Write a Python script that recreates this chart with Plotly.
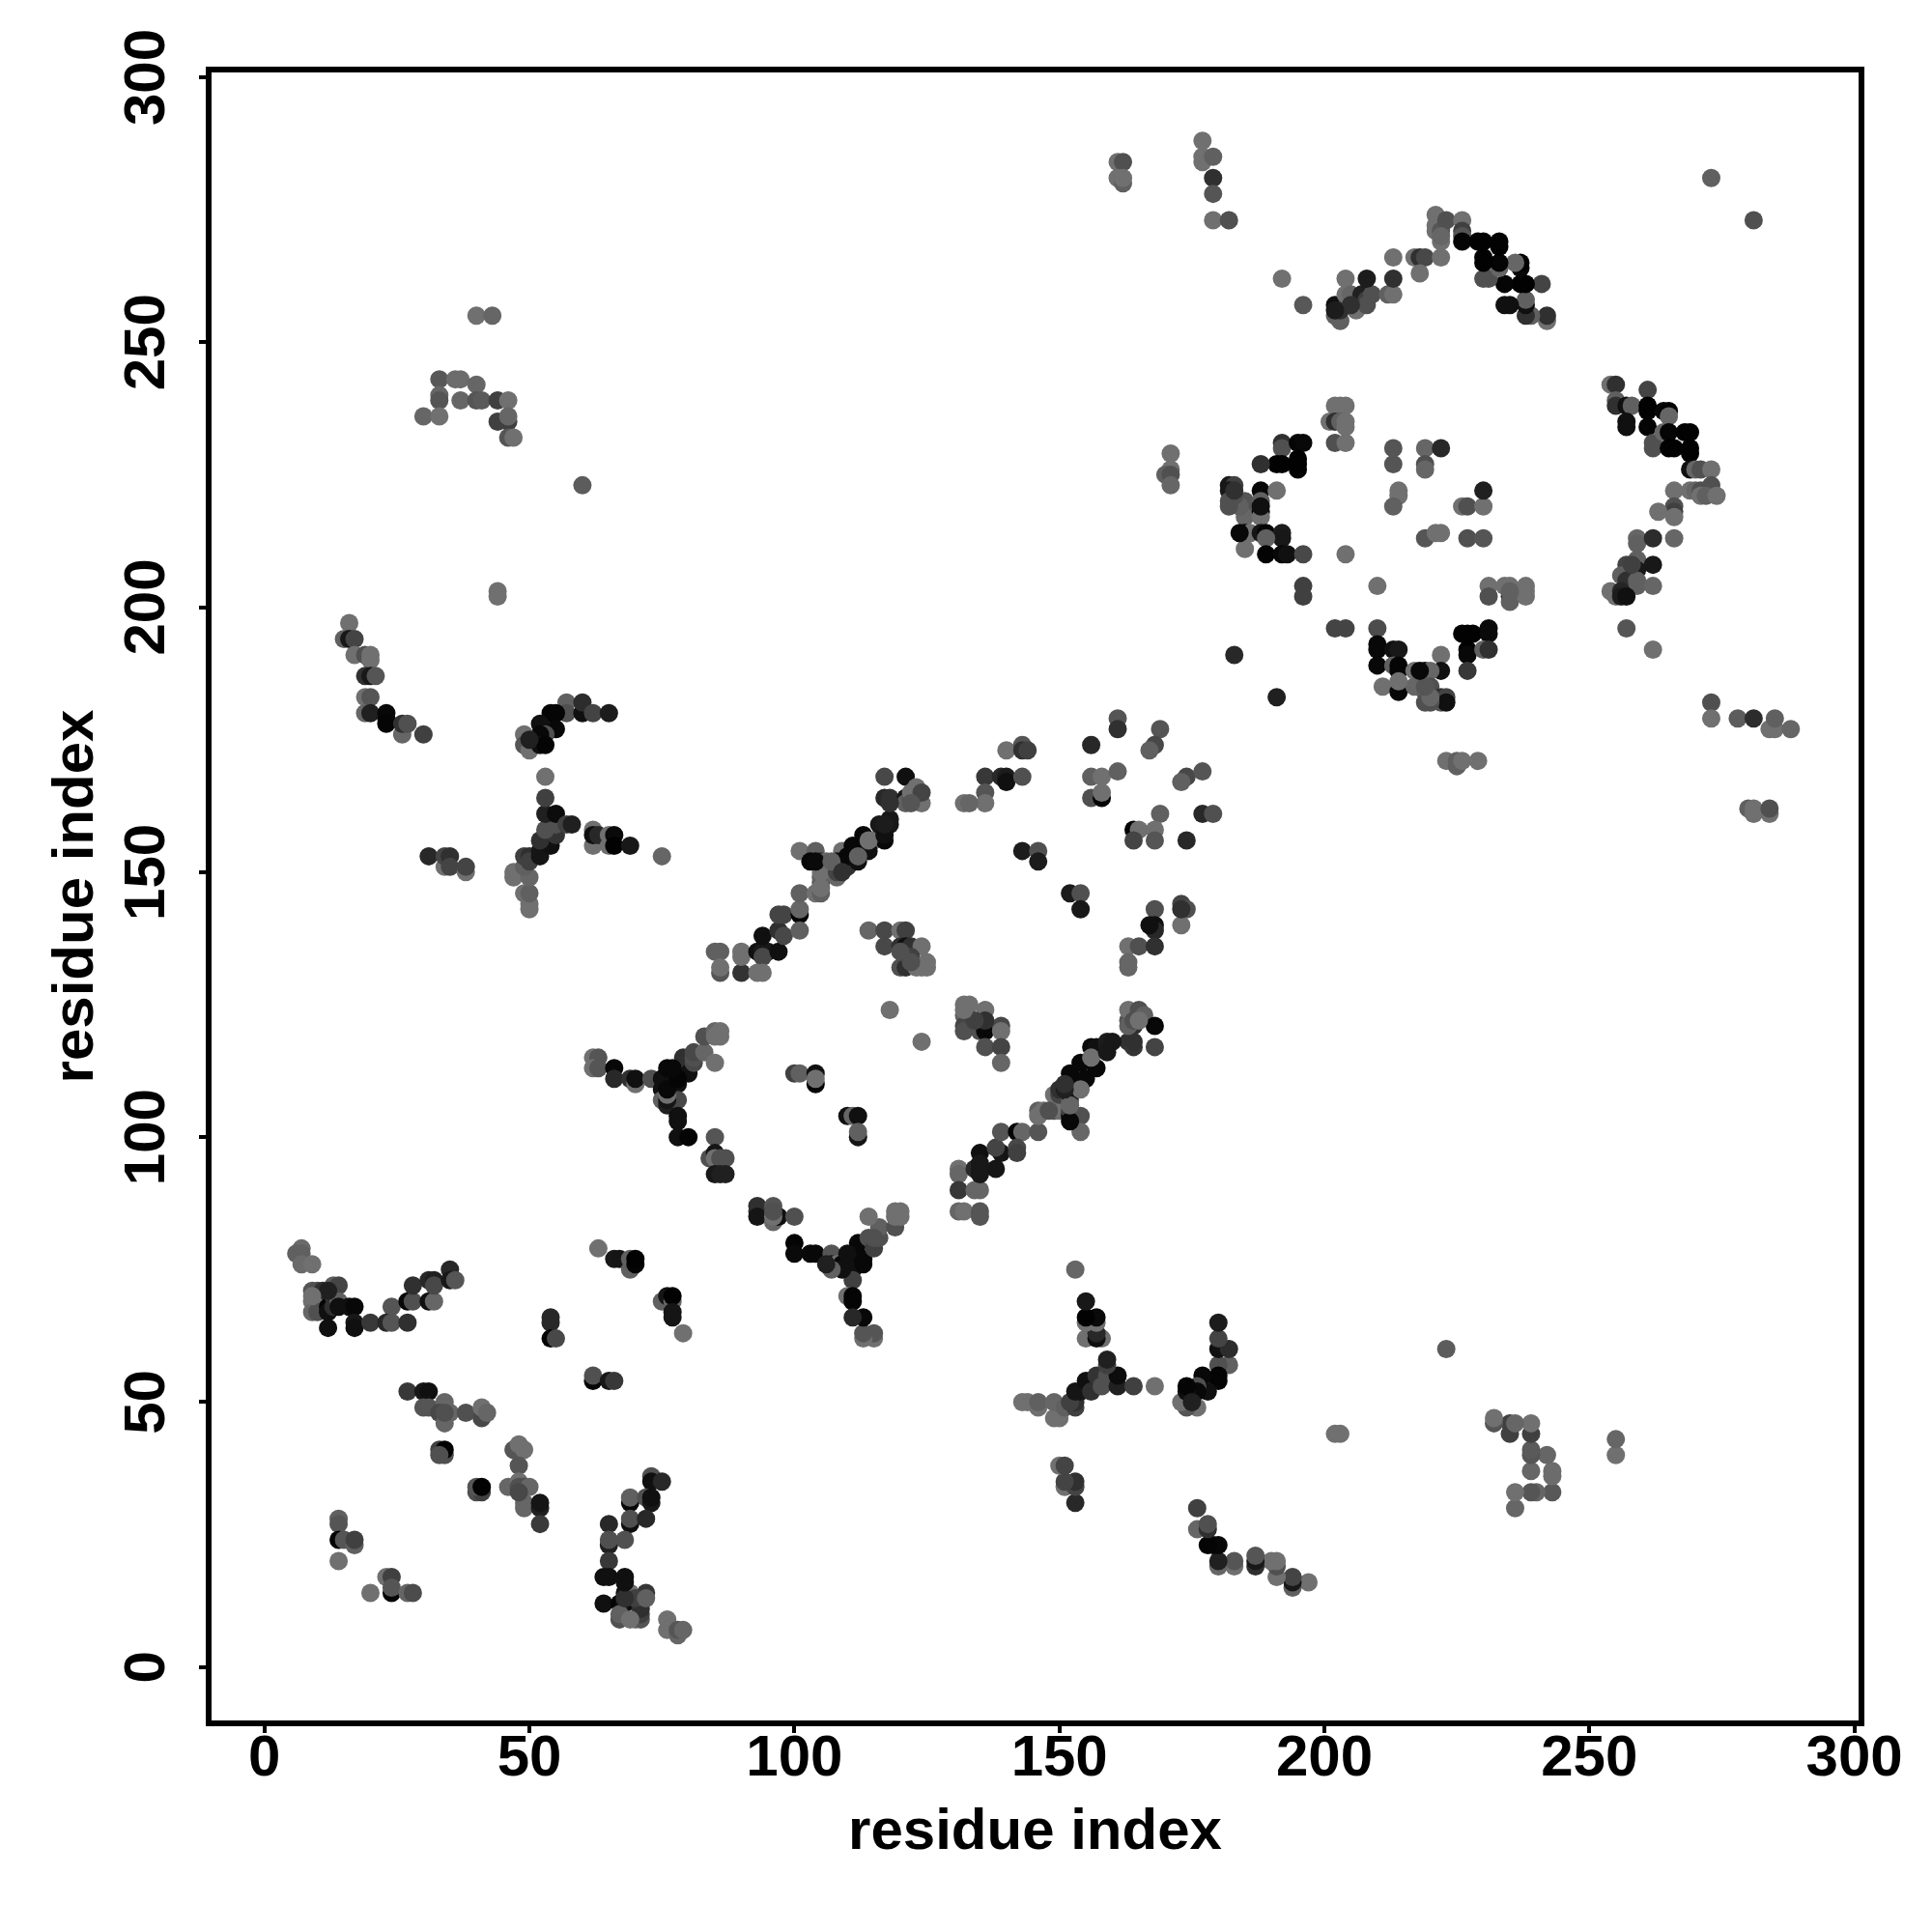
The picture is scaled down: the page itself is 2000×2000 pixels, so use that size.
import plotly.graph_objects as go

# contacts: (residue i, residue j, contact level as a grey value 0-255)
far_upper_left = [
(40,255,0x70),(43,255,0x66),(33,243,0x58),(36,243,0x6c),(37,243,0x6c),(40,242,0x66),(33,240,0x66),(33,239,0x55),
(37,239,0x66),(40,239,0x55),(41,239,0x5a),(44,239,0x40),(46,239,0x70),(30,236,0x66),(33,236,0x70),(44,235,0x40),
(46,235,0x40),(46,236,0x66),(46,232,0x55),(47,232,0x70),(60,223,0x5c),(44,203,0x70),(44,202,0x70),
]
arc_15_30 = [
(16,197,0x70),(15,194,0x60),(16,194,0x18),(17,194,0x44),(17,191,0x70),(19,191,0x50),(20,191,0x70),(20,190,0x70),
(19,187,0x30),(20,187,0x18),(21,187,0x55),(19,183,0x70),(20,183,0x55),(19,180,0x66),(20,180,0x20),(23,180,0x08),
(23,179,0x08),(23,178,0x05),(26,176,0x66),(26,178,0x30),(27,178,0x50),(30,176,0x40),
]
arc_50_65 = [
(57,182,0x60),(57,180,0x50),(60,180,0x10),(60,182,0x2c),(62,180,0x44),(65,180,0x1c),(54,178,0x40),(54,180,0x05),(55,180,0x05),
(55,177,0x08),(52,178,0x10),(53,176,0x50),(52,176,0x08),(49,176,0x70),(49,174,0x55),(50,173,0x70),
(52,174,0x10),(53,174,0x05),(50,175,0x20),
]
fork_50_60 = [
(50,143,0x70),(50,144,0x70),(49,146,0x70),(50,146,0x60),(47,149,0x70),(47,150,0x70),(50,149,0x66),(49,151,0x60),
(49,153,0x40),(50,153,0x30),(50,152,0x40),(52,154,0x18),(52,153,0x15),(54,155,0x10),(52,156,0x30),(55,157,0x33),
(53,158,0x50),(55,159,0x50),(53,161,0x20),(55,161,0x0c),(57,159,0x40),(58,159,0x20),(53,164,0x40),(53,168,0x70),
]
row_153 = [
(31,153,0x28),(34,151,0x70),(34,153,0x44),(35,153,0x30),(35,151,0x44),(38,150,0x70),(38,151,0x44),
(62,158,0x70),(62,155,0x70),(62,157,0x10),(63,157,0x28),(65,157,0x70),(65,155,0x70),(66,157,0x0a),(66,155,0x02),
(69,155,0x18),(75,153,0x66),
]
strand_85_125 = [
(85,135,0x60),(86,135,0x60),(86,131,0x55),(86,132,0x70),(90,131,0x33),(90,134,0x70),(90,135,0x70),(93,135,0x10),
(94,135,0x18),(95,135,0x18),(94,134,0x48),(93,131,0x70),(94,131,0x70),(97,135,0x10),(94,138,0x10),(97,139,0x30),
(98,138,0x48),(97,142,0x44),(98,142,0x44),(101,142,0x05),(101,143,0x66),(101,139,0x60),(101,146,0x60),(104,146,0x70),
(105,146,0x60),(105,148,0x50),(105,149,0x60),(108,149,0x66),(101,154,0x70),(104,154,0x60),(103,152,0x08),(105,152,0x30),
(106,152,0x66),(112,154,0x70),(115,156,0x70),(109,154,0x70),(108,152,0x10),(109,151,0x20),(110,151,0x30),(110,153,0x08),(112,152,0x10),(111,155,0x08),
(114,154,0x10),(113,157,0x08),(117,156,0x08),(116,159,0x18),(118,159,0x18),(118,160,0x18),
(117,164,0x28),(118,164,0x30),(117,168,0x48),(121,168,0x10),(121,164,0x18),(121,163,0x60),(122,164,0x50),(122,165,0x70),
(123,166,0x70),(124,163,0x70),(124,165,0x44),
]
patch_114_125 = [
(114,139,0x66),(117,139,0x48),(120,139,0x70),(121,139,0x40),(117,136,0x48),(120,136,0x30),(121,136,0x10),(122,136,0x30),
(124,136,0x70),(120,132,0x50),(121,132,0x30),(122,134,0x40),(123,132,0x70),(124,132,0x70),(125,133,0x70),(125,132,0x70),
(118,124,0x70),(124,118,0x70),
]
strand_62_86 = [
(62,115,0x70),(63,115,0x55),(62,113,0x70),(63,113,0x55),(66,113,0x08),(66,111,0x28),(69,111,0x30),(70,110,0x70),
(70,111,0x10),(73,111,0x50),(78,112,0x70),(75,111,0x10),(75,109,0x10),(75,107,0x60),(76,113,0x08),(76,106,0x20),
(78,110,0x10),(78,107,0x48),(78,104,0x10),(78,103,0x10),(78,100,0x10),(80,100,0x05),
(79,115,0x30),(80,112,0x10),(81,114,0x48),(81,115,0x50),(81,116,0x48),(83,116,0x66),(83,119,0x50),(85,114,0x70),
(85,120,0x66),(86,119,0x70),(86,120,0x70),(85,100,0x55),(84,96,0x50),(85,97,0x15),(85,96,0x70),(86,96,0x50),
(87,96,0x50),(85,93,0x18),(86,93,0x20),(87,93,0x20),
]
inner_100_112 = [
(100,112,0x40),(101,112,0x60),(104,112,0x10),(104,110,0x05),(104,111,0x70),(110,104,0x10),(111,104,0x66),(112,104,0x10),
(112,100,0x15),(112,101,0x60),
]
lower_arm_93_120 = [
(93,87,0x30),(93,86,0x30),(93,85,0x15),(96,87,0x55),(96,84,0x66),(97,85,0x10),(100,85,0x50),(100,80,0x05),
(100,78,0x0a),(103,78,0x0a),(104,78,0x08),(107,78,0x55),(107,76,0x15),(108,76,0x70),(112,78,0x70),(109,76,0x08),
(111,78,0x05),(111,75,0x10),(111,73,0x40),(110,70,0x70),(111,70,0x05),(111,69,0x05),(112,80,0x08),
(113,77,0x08),(114,81,0x50),(115,79,0x40),(116,81,0x50),(116,83,0x60),(114,85,0x70),(119,83,0x50),(119,85,0x70),
(120,85,0x70),
]
cluster_132_144 = [
(140,173,0x70),(143,174,0x55),(143,173,0x30),(144,173,0x40),(136,168,0x38),(139,168,0x28),(140,168,0x1c),(140,167,0x10),
(143,168,0x50),(136,165,0x55),(136,163,0x70),(132,163,0x70),(133,163,0x66),(143,154,0x1c),(146,154,0x50),(146,152,0x1c),
(152,146,0x1c),(154,146,0x50),(154,143,0x18),
]
cluster_156_179 = [
(161,179,0x55),(161,177,0x30),(156,174,0x28),(169,177,0x55),(168,174,0x48),(167,173,0x60),(156,168,0x60),(158,168,0x70),
(161,169,0x60),(156,164,0x50),(158,164,0x05),(158,165,0x70),(174,168,0x48),(173,167,0x60),(177,169,0x55),(169,161,0x60),
(177,161,0x28),(179,161,0x50),(164,158,0x05),(165,158,0x70),(168,158,0x70),(164,156,0x44),(168,156,0x55),(174,156,0x28),
(168,143,0x50),(168,140,0x10),(168,139,0x28),(173,144,0x44),(174,143,0x50),(173,140,0x70),(163,136,0x70),(165,136,0x50),
(168,136,0x30),(163,133,0x66),(163,132,0x66),
]
cluster_132_139_120 = [
(132,125,0x70),(133,125,0x70),(136,124,0x70),(132,123,0x60),(133,122,0x50),(132,121,0x45),(132,120,0x50),(135,120,0x50),
(136,121,0x30),(136,120,0x08),(139,121,0x48),(139,120,0x70),(136,117,0x50),(139,117,0x44),(139,114,0x66),
]
strand_131_168 = [
(131,94,0x70),(131,93,0x66),(131,90,0x38),(134,90,0x66),(135,90,0x66),(131,86,0x66),(132,86,0x70),(135,86,0x55),
(135,85,0x55),(134,94,0x28),(135,94,0x18),(135,93,0x18),(135,97,0x10),(138,94,0x15),(139,97,0x15),(138,98,0x44),
(139,101,0x55),(142,101,0x05),(143,101,0x66),(142,98,0x48),(142,97,0x40),(146,101,0x55),(146,105,0x60),(147,105,0x70),
(146,104,0x70),(149,105,0x50),(150,105,0x70),(149,108,0x70),(150,108,0x44),(152,104,0x0a),(152,105,0x40),(154,104,0x50),
(154,101,0x66),(152,107,0x60),(150,109,0x30),(154,112,0x70),(156,114,0x70),(153,112,0x60),(152,108,0x10),(153,110,0x08),
(152,112,0x08),(155,111,0x08),(154,114,0x08),(157,113,0x08),(156,117,0x0a),(157,117,0x10),(159,117,0x1c),(159,118,0x1c),
(163,118,0x30),(164,117,0x35),(163,122,0x55),(163,124,0x70),(164,121,0x30),(165,124,0x50),(166,123,0x60),(168,121,0x08),
(168,117,0x44),
]
top_isolated = [
(161,284,0x70),(162,284,0x50),(161,281,0x70),(162,280,0x60),(162,281,0x70),(177,288,0x70),(177,285,0x70),(177,284,0x70),
(179,285,0x60),(179,281,0x30),(179,278,0x55),(179,273,0x70),(182,273,0x50),(192,262,0x70),(196,257,0x58),(273,281,0x60),
(281,273,0x50),
]
top_arc = [
(202,255,0x60),(203,254,0x60),(202,257,0x10),(203,256,0x30),(204,262,0x70),(204,259,0x70),(205,259,0x66),(206,256,0x70),
(207,259,0x20),(208,258,0x40),(208,257,0x50),(209,259,0x50),(208,262,0x1c),(212,259,0x60),(213,259,0x70),(213,262,0x30),
(213,266,0x70),(217,266,0x70),(218,266,0x30),(219,266,0x48),(218,263,0x70),(222,266,0x70),(221,274,0x70),(221,272,0x70),
(221,271,0x70),(222,271,0x55),(222,269,0x70),(223,273,0x50),(226,273,0x70),(226,271,0x40),(226,270,0x55),(226,269,0x05),
]
ring_left = [
(171,229,0x70),(171,226,0x70),(170,225,0x60),(171,225,0x50),(171,223,0x66),(192,231,0x30),(192,230,0x50),(195,231,0x05),
(196,231,0x08),(195,227,0x02),(195,226,0x02),(192,227,0x02),(191,227,0x02),(188,227,0x30),(182,223,0x18),(183,223,0x40),
(182,222,0x18),(182,220,0x50),(183,220,0x66),(185,220,0x55),(185,219,0x55),(185,217,0x66),(188,222,0x08),(191,222,0x70),
(188,220,0x60),(188,218,0x08),(188,217,0x70),(185,214,0x05),(186,214,0x70),(188,214,0x15),(189,214,0x05),(192,214,0x1c),
(192,213,0x18),(189,213,0x60),(185,211,0x70),(189,210,0x04),(192,210,0x08),(193,210,0x10),(196,210,0x48),(204,210,0x70),
(196,204,0x40),(196,202,0x40),(210,204,0x70),
]
ring_top = [
(202,238,0x70),(203,238,0x70),(204,238,0x70),(201,235,0x70),(202,235,0x30),(203,235,0x60),(204,235,0x70),(204,234,0x70),
(202,231,0x50),(204,231,0x70),(213,230,0x55),(213,227,0x55),(219,230,0x66),(222,230,0x28),(219,227,0x50),(219,226,0x66),
(214,222,0x70),(214,221,0x70),(213,219,0x60),(219,213,0x55),(221,214,0x70),(222,214,0x70),(227,213,0x50),(230,213,0x55),
(226,219,0x70),(227,219,0x50),(230,219,0x70),(230,222,0x20),
]
ring_right = [
(231,204,0x70),(231,202,0x50),(234,204,0x70),(235,204,0x70),(235,202,0x30),(235,201,0x60),(238,204,0x70),(238,202,0x70),
(202,196,0x44),(204,196,0x44),(210,196,0x4c),(210,193,0x08),(210,192,0x08),(210,189,0x08),(213,192,0x10),(214,192,0x18),
(213,189,0x60),(214,189,0x05),(214,188,0x05),(211,185,0x70),(214,185,0x70),(214,184,0x08),(222,191,0x70),(222,188,0x10),
(217,188,0x70),(219,188,0x10),(220,188,0x66),(217,185,0x66),(220,185,0x50),(219,184,0x60),(219,182,0x50),(221,183,0x50),
(222,183,0x30),(222,182,0x55),(223,183,0x44),(223,182,0x10),(227,195,0x02),(228,195,0x02),(231,196,0x0a),(231,195,0x0a),
(227,192,0x02),(227,191,0x08),(227,188,0x38),(230,192,0x60),(231,192,0x30),(183,191,0x28),(191,183,0x20),(223,171,0x70),
(225,171,0x60),(225,170,0x60),(226,171,0x70),(229,171,0x70),
]
right_arc = [
(254,242,0x70),(255,242,0x30),(255,239,0x60),(255,238,0x30),(257,238,0x10),(258,238,0x60),(261,241,0x44),(261,238,0x02),
(261,237,0x02),(261,234,0x05),(257,235,0x10),(257,234,0x10),(262,231,0x50),(262,230,0x50),(264,237,0x08),(265,237,0x02),
(265,236,0x66),(264,233,0x66),(265,233,0x05),(265,230,0x02),(266,230,0x02),(268,233,0x02),(269,233,0x02),(269,230,0x02),
(269,229,0x02),(269,226,0x10),(270,226,0x66),(271,226,0x50),(273,226,0x70),(266,222,0x70),(269,222,0x70),(270,222,0x66),
(271,222,0x50),(273,223,0x50),(271,221,0x70),(272,221,0x60),(274,221,0x70),(266,219,0x50),(266,218,0x40),(266,217,0x70),
(263,218,0x70),(259,213,0x66),(259,212,0x60),(262,213,0x2c),(266,213,0x66),(259,209,0x60),(257,208,0x44),(262,208,0x18),
(259,207,0x18),(256,206,0x60),(257,205,0x30),(259,205,0x60),(259,204,0x60),(262,204,0x66),(254,203,0x70),(255,202,0x70),
(256,203,0x25),(256,202,0x1c),(257,202,0x10),(257,196,0x55),(262,192,0x70),
]
low_band = [
(7,79,0x6a),(6,78,0x60),(7,78,0x60),(7,76,0x6a),(9,76,0x70),(9,71,0x55),(10,71,0x50),(11,71,0x30),(9,69,0x70),(9,67,0x66),
(10,67,0x50),(12,68,0x05),(12,67,0x10),(13,70,0x40),(13,68,0x30),(13,72,0x60),(14,72,0x45),(14,69,0x60),(14,68,0x10),
(12,64,0x10),(16,68,0x10),(17,68,0x08),(17,65,0x18),(17,64,0x10),(20,65,0x38),(24,68,0x55),(23,65,0x28),(24,65,0x55),
(27,65,0x30),(27,69,0x08),(28,69,0x50),(28,72,0x30),(31,69,0x10),(32,69,0x66),(31,73,0x28),(32,73,0x20),(32,72,0x48),
(35,75,0x28),(35,73,0x18),(36,73,0x55),
]
mid_patches = [
(27,52,0x38),(30,52,0x18),(31,52,0x10),(30,49,0x55),(31,49,0x55),(34,50,0x66),(34,49,0x66),(33,48,0x48),(35,48,0x66),
(34,46,0x66),(38,48,0x50),(41,47,0x48),(41,49,0x70),(42,48,0x66),(33,41,0x40),(34,40,0x50),(34,41,0x02),(40,33,0x50),
(41,33,0x40),(40,34,0x55),(41,34,0x02),(47,41,0x55),(48,42,0x70),(49,41,0x70),(48,38,0x55),(46,34,0x66),(48,35,0x70),
(48,34,0x50),(49,34,0x50),(50,34,0x66),(49,31,0x66),(49,30,0x66),(52,30,0x20),(52,31,0x15),(52,27,0x3a),
]
low_small = [
(14,28,0x60),(14,27,0x55),(14,24,0x05),(15,24,0x55),(17,23,0x60),(17,24,0x40),(14,20,0x70),(23,17,0x70),(24,17,0x40),
(24,14,0x05),(24,15,0x55),(20,14,0x70),(27,14,0x66),(28,14,0x4c),
]
low_arc_64_79 = [
(73,36,0x50),(73,35,0x10),(75,35,0x28),(69,31,0x08),(69,32,0x60),(72,32,0x50),(73,31,0x18),(73,32,0x10),(69,27,0x10),
(69,28,0x50),(72,28,0x28),(65,27,0x28),(65,23,0x20),(65,24,0x50),(68,24,0x50),(65,20,0x38),(64,17,0x10),(65,17,0x10),
(68,17,0x10),(64,12,0x10),(67,12,0x05),(68,12,0x10),(68,14,0x15),(69,14,0x70),(71,12,0x20),(72,14,0x35),(67,9,0x50),
(67,10,0x60),(70,9,0x70),(71,9,0x55),(71,10,0x40),(76,9,0x70),(76,7,0x70),(78,6,0x66),(78,7,0x55),(79,7,0x66),
]
low_right_small = [
(63,79,0x70),(66,77,0x18),(67,77,0x15),(69,75,0x60),(69,77,0x60),(70,76,0x05),(70,77,0x02),(75,69,0x60),(76,70,0x15),
(77,69,0x66),(77,70,0x02),(77,67,0x15),(77,66,0x15),(79,63,0x70),(54,66,0x28),(54,65,0x28),(54,62,0x05),(55,62,0x48),
(62,54,0x05),(62,55,0x50),(65,54,0x18),(66,54,0x38),
]
upper_right_far = [
(273,182,0x50),(273,179,0x70),(278,179,0x5c),(281,179,0x2c),(284,177,0x70),(285,177,0x70),(285,179,0x60),(288,177,0x66),
(280,162,0x60),(281,161,0x70),(281,162,0x70),(284,161,0x70),(284,162,0x50),
]

tick_values = [0, 50, 100, 150, 200, 250, 300]
axis_label = "residue index"

groups = [far_upper_left, arc_15_30, arc_50_65, fork_50_60, row_153, strand_85_125, patch_114_125,
          strand_62_86, inner_100_112, lower_arm_93_120, cluster_132_144, cluster_156_179, cluster_132_139_120,
          strand_131_168, top_isolated, top_arc, ring_left, ring_top, ring_right, right_arc, low_band,
          mid_patches, low_small, low_arc_64_79, low_right_small, upper_right_far]

# the map is symmetric: a contact read on one side also stands on the other side
contacts = {}
for group in groups:
    for i, j, level in group:
        contacts[(i, j)] = level
for (i, j), level in list(contacts.items()):
    contacts.setdefault((j, i), level)

xs = [k[0] for k in contacts]
ys = [k[1] for k in contacts]
colors = [f"rgb({v},{v},{v})" for v in contacts.values()]

fig = go.Figure(go.Scatter(x=xs, y=ys, mode="markers",
                           marker=dict(size=19, color=colors, line=dict(width=0)),
                           hoverinfo="skip"))

FONT = "Liberation Sans"
axis = dict(tickvals=tick_values, ticktext=[str(v) for v in tick_values], ticks="outside", ticklen=7, tickwidth=4,
            tickcolor="black", showline=True, linewidth=5.5, linecolor="black", mirror=True,
            showgrid=False, zeroline=False,
            tickfont=dict(family=FONT, size=60, color="black", weight="bold"))
title_font = dict(family=FONT, size=60, color="black", weight="bold")
fig.update_xaxes(range=[-9.98, 300.8], title=dict(text=axis_label, standoff=24, font=title_font),
                 ticklabelstandoff=-28, **axis)
fig.update_yaxes(range=[-10.07, 300.9], tickangle=-90, title=dict(text=axis_label, standoff=2, font=title_font),
                 ticklabelstandoff=12, ticklabelshift=9, **axis)
fig.update_layout(width=1984, height=1984, margin=dict(l=210.75, r=67.75, t=66.75, b=210.75, autoexpand=False),
                  paper_bgcolor="white", plot_bgcolor="white", showlegend=False)
fig.write_html("out.html")
